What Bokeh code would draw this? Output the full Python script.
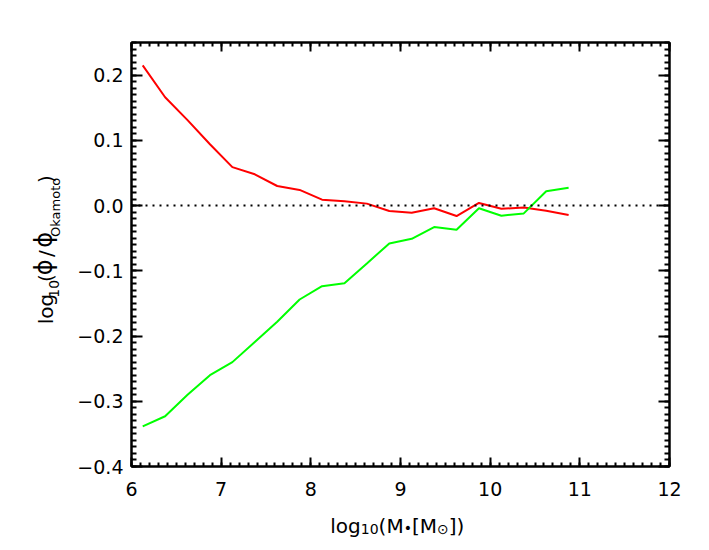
import math
from bokeh.plotting import figure
from bokeh.models import (Range1d, LinearAxis, FixedTicker, CustomJSTickFormatter, Span)
from bokeh.layouts import row, column
from bokeh.core.properties import value
from bokeh.embed import file_html
from bokeh.resources import INLINE

# ---------------- data ----------------
log_mass = [6.125, 6.375, 6.625, 6.875, 7.125, 7.375, 7.625, 7.875, 8.125, 8.375,
            8.625, 8.875, 9.125, 9.375, 9.625, 9.875, 10.125, 10.375, 10.625, 10.875]
red_ratio = [0.215, 0.166, 0.131, 0.094, 0.059, 0.048, 0.030, 0.024, 0.009, 0.0066,
             0.003, -0.0083, -0.011, -0.004, -0.016, 0.004, -0.005, -0.003, -0.008, -0.0145]
green_ratio = [-0.3386, -0.323, -0.290, -0.260, -0.240, -0.209, -0.178, -0.144, -0.1235, -0.119,
               -0.0887, -0.058, -0.051, -0.033, -0.037, -0.004, -0.0155, -0.012, 0.022, 0.0275]

x_major = [6, 7, 8, 9, 10, 11, 12]
y_major = [-0.4, -0.3, -0.2, -0.1, 0.0, 0.1, 0.2]
x_minor = [round(6 + 0.1 * i, 2) for i in range(61)]
y_minor = [round(-0.4 + 0.01 * i, 3) for i in range(66)]

FONT = "DejaVu Sans"

# layout geometry (pixels)
YL_W = 70            # width of the y-title strip
P_BL, P_BT, P_BR, P_BB = 61, 42, 30, 40
FW, FH = 538, 424
P_W = P_BL + FW + P_BR
P_H = P_BT + FH + P_BB
TOTAL_W = YL_W + P_W
XL_H = 40

p = figure(width=P_W, height=P_H,
           x_range=Range1d(6, 12), y_range=Range1d(-0.4, 0.25),
           output_backend="svg", toolbar_location=None,
           x_axis_location=None, y_axis_location=None,
           min_border_left=P_BL, min_border_top=P_BT,
           min_border_right=P_BR, min_border_bottom=P_BB,
           background_fill_color="white", border_fill_color="white")
p.xgrid.grid_line_color = None
p.ygrid.grid_line_color = None
p.outline_line_color = "black"
p.outline_line_width = 2

y_fmt = CustomJSTickFormatter(code="""
if (Math.abs(tick) < 1e-9) { return '0.0'; }
return tick.toFixed(1).replace('-', '\u2212');
""")
x_fmt = CustomJSTickFormatter(code="return tick.toFixed(0);")
blank_fmt = CustomJSTickFormatter(code="return '';")


def make_axis(ticks, minor, tin, minin, fmt, standoff, size):
    ax = LinearAxis(ticker=FixedTicker(ticks=ticks, minor_ticks=minor),
                    formatter=fmt)
    ax.axis_line_width = 2
    ax.axis_line_color = "black"
    ax.major_tick_in = tin
    ax.major_tick_out = 0
    ax.minor_tick_in = minin
    ax.minor_tick_out = 0
    ax.major_tick_line_width = 2
    ax.minor_tick_line_width = 2
    ax.major_tick_line_color = "black"
    ax.minor_tick_line_color = "black"
    ax.major_label_standoff = standoff
    ax.major_label_text_font = FONT
    ax.major_label_text_font_size = size
    ax.major_label_text_color = "black"
    return ax


p.add_layout(make_axis(x_major, x_minor, 9, 4, x_fmt, 15, "19px"), "below")
p.add_layout(make_axis(x_major, x_minor, 9, 4, blank_fmt, 0, "0px"), "above")
p.add_layout(make_axis(y_major, y_minor, 11, 5, y_fmt, 8, "19px"), "left")
p.add_layout(make_axis(y_major, y_minor, 11, 5, blank_fmt, 0, "0px"), "right")

p.add_layout(Span(location=0, dimension="width", line_color="black",
                  line_width=2, line_dash="2 5"))

p.line(log_mass, red_ratio, line_color="#ff0000", line_width=2)
p.line(log_mass, green_ratio, line_color="#00ff00", line_width=2)


def strip(w, h):
    f = figure(width=w, height=h, x_range=Range1d(0, w), y_range=Range1d(0, h),
               output_backend="svg", toolbar_location=None,
               x_axis_location=None, y_axis_location=None,
               min_border=0, background_fill_color="white",
               border_fill_color="white")
    f.outline_line_color = None
    f.xgrid.grid_line_color = None
    f.ygrid.grid_line_color = None
    return f


ystrip = strip(YL_W, P_H)
xstrip = strip(TOTAL_W, XL_H)

# approximate DejaVu Sans advance widths (em)
ADV = {"l": 0.278, "o": 0.612, "g": 0.635, "1": 0.636, "0": 0.636, "(": 0.390,
       ")": 0.390, "M": 0.863, "[": 0.390, "]": 0.390, "\u2022": 0.590,
       "\u2299": 0.838, "/": 0.337, "\u03d5": 0.75, "O": 0.787, "k": 0.579,
       "a": 0.613, "m": 0.974, "t": 0.392}


def adv(s, size):
    return sum(ADV[c] for c in s) * size


def put(fig, off_y, s, px, py, size, angle=0.0, align="left", baseline="alphabetic"):
    # px, py: page pixel position (origin top-left); off_y: strip's top on page
    h = fig.height
    fig.text(x=[px], y=[h - (py - off_y)], text=[s],
             text_font=value(FONT), text_font_size=value(f"{size}px"),
             text_color="black", text_align=align,
             text_baseline=baseline, angle=angle)


# x-axis title: log10(M*[Msun]) -- pieces: (text, size, baseline drop, extra gap)
x_title = [("log", 20, 0, 0), ("10", 14, 3.3, 0), ("(M", 20, 0, 0),
           ("\u2022", 14, 2.6, 0), ("[M", 20, 0, 0), ("\u2299", 14, 3.5, 0),
           ("])", 20, 0, 0)]
cx = 329.8
for s, sz, drop, gap in x_title:
    cx += gap
    put(xstrip, P_H, s, cx, 525 + drop, sz)
    cx += adv(s, sz)

# y-axis title: log10(phi/phi_Okamoto) -- rotated, reading upward.
# Each piece is placed by its centre so that the rotation pivot does not matter.
R = math.pi / 2
y_title = [("log", 20, 0, 0), ("10", 14, 6.6, 0), ("(", 20, 0, 0),
           ("\u03d5", 24, 0, 0), ("/", 20, 0, 4), ("\u03d5", 24, 0, 4),
           ("Okamoto", 13, 8.0, 0), (")", 20, 0, 0)]
cy = 333.3
BASE_X = 51.7
for s, sz, drop, gap in y_title:
    cy -= gap
    a = adv(s, sz)
    put(ystrip, 0, s, BASE_X + drop - 0.33 * sz, cy - a / 2, sz, R,
        align="center", baseline="middle")
    cy -= a

layout = column(row(ystrip, p, spacing=0), xstrip, spacing=0)

open("out.html", "w").write(file_html(layout, INLINE))
